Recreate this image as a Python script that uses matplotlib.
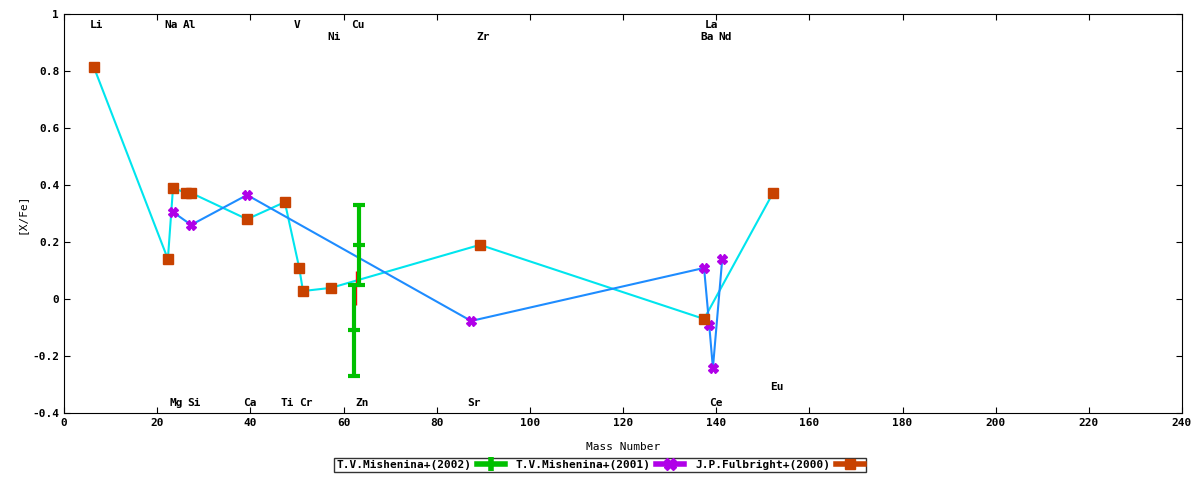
import matplotlib
matplotlib.use("Agg")
import matplotlib.pyplot as plt
from matplotlib.lines import Line2D

plt.rcParams['font.family'] = 'DejaVu Sans Mono'
plt.rcParams['font.weight'] = 'bold'
plt.rcParams['font.size'] = 8

# Fulbright (2000)
ful_x = [6.4, 22.3, 23.4, 26.2, 27.3, 39.3, 47.4, 50.5, 51.3, 57.3, 89.3, 137.4, 152.2]
ful_y = [0.814, 0.14, 0.39, 0.372, 0.372, 0.28, 0.34, 0.109, 0.028, 0.039, 0.19, -0.07, 0.372]
# Mishenina (2001)
m01_x = [23.4, 27.3, 39.3, 87.4, 137.4, 138.5, 139.3, 141.3]
m01_y = [0.305, 0.26, 0.365, -0.077, 0.109, -0.09, -0.242, 0.14]
# Mishenina (2002)
m02_x = [62.2, 63.3]
m02_y = [-0.11, 0.19]
m02_err = [0.16, 0.14]
# red error bar
red_x = [62.7]
red_y = [0.04]
red_err = [0.06]

elem_labels = ["Li","Na","Al","V","Cu","Ni","Zr","La","Ba","Nd",
               "Mg","Si","Ca","Ti","Cr","Zn","Sr","Ce","Eu"]
elem_x = [7, 23, 27, 50, 63, 58, 90, 139, 138, 142,
          24, 28, 40, 48, 52, 64, 88, 140, 153]
elem_y = [0.96, 0.96, 0.96, 0.96, 0.96, 0.92, 0.92, 0.96, 0.92, 0.92,
          -0.365, -0.365, -0.365, -0.365, -0.365, -0.365, -0.365, -0.365, -0.31]

fig = plt.figure(figsize=(12, 4.8), dpi=100)
ax = fig.add_axes([64/1200, 1-413/480, (1182-64)/1200, (413-14)/480])

ax.plot(ful_x, ful_y, color='#00e5ee', lw=1.5, zorder=2)
ax.plot(m01_x, m01_y, color='#1e8cff', lw=1.5, zorder=2)
ax.plot(ful_x, ful_y, 's', color='#c84200', ms=7, zorder=4)
ax.plot(m01_x, m01_y, 'X', color='#b000e8', ms=7, zorder=3)
ax.errorbar(red_x, red_y, yerr=red_err, fmt='none', ecolor='red', lw=1, capsize=0, zorder=3)
ax.errorbar(m02_x, m02_y, yerr=m02_err, fmt='_', color='#00c000', ecolor='#00c000',
            lw=3, ms=8, mew=3, capsize=4, capthick=3, zorder=5)

for t, x, y in zip(elem_labels, elem_x, elem_y):
    ax.text(x, y, t, ha='center', va='center', fontsize=8, fontweight='bold')

ax.set_xlim(0, 240)
ax.set_ylim(-0.4, 1)
ax.set_xticks(range(0, 241, 20))
ax.set_yticks([-0.4, -0.2, 0, 0.2, 0.4, 0.6, 0.8, 1])
ax.set_yticklabels(['-0.4', '-0.2', '0', '0.2', '0.4', '0.6', '0.8', '1'])
ax.tick_params(direction='in', top=True, right=True, length=4)
ax.set_xlabel('Mass Number', labelpad=10)
ax.set_ylabel('[X/Fe]')

handles = [
    Line2D([], [], color='#00c000', lw=4, marker='|', ms=10, mew=4),
    Line2D([], [], color='#b000e8', lw=4, marker='X', ms=8),
    Line2D([], [], color='#c84200', lw=4, marker='s', ms=7),
]
labels = ['T.V.Mishenina+(2002)', 'T.V.Mishenina+(2001)', 'J.P.Fulbright+(2000)']
fig.legend(handles, labels, loc='lower center', bbox_to_anchor=(0.5, 0.005), ncol=3,
           frameon=True, fancybox=False, edgecolor='black', markerfirst=False,
           borderpad=0.2, handletextpad=0.5, handlelength=2.5, columnspacing=1.0, fontsize=8)

fig.savefig('out.png', dpi=100)
